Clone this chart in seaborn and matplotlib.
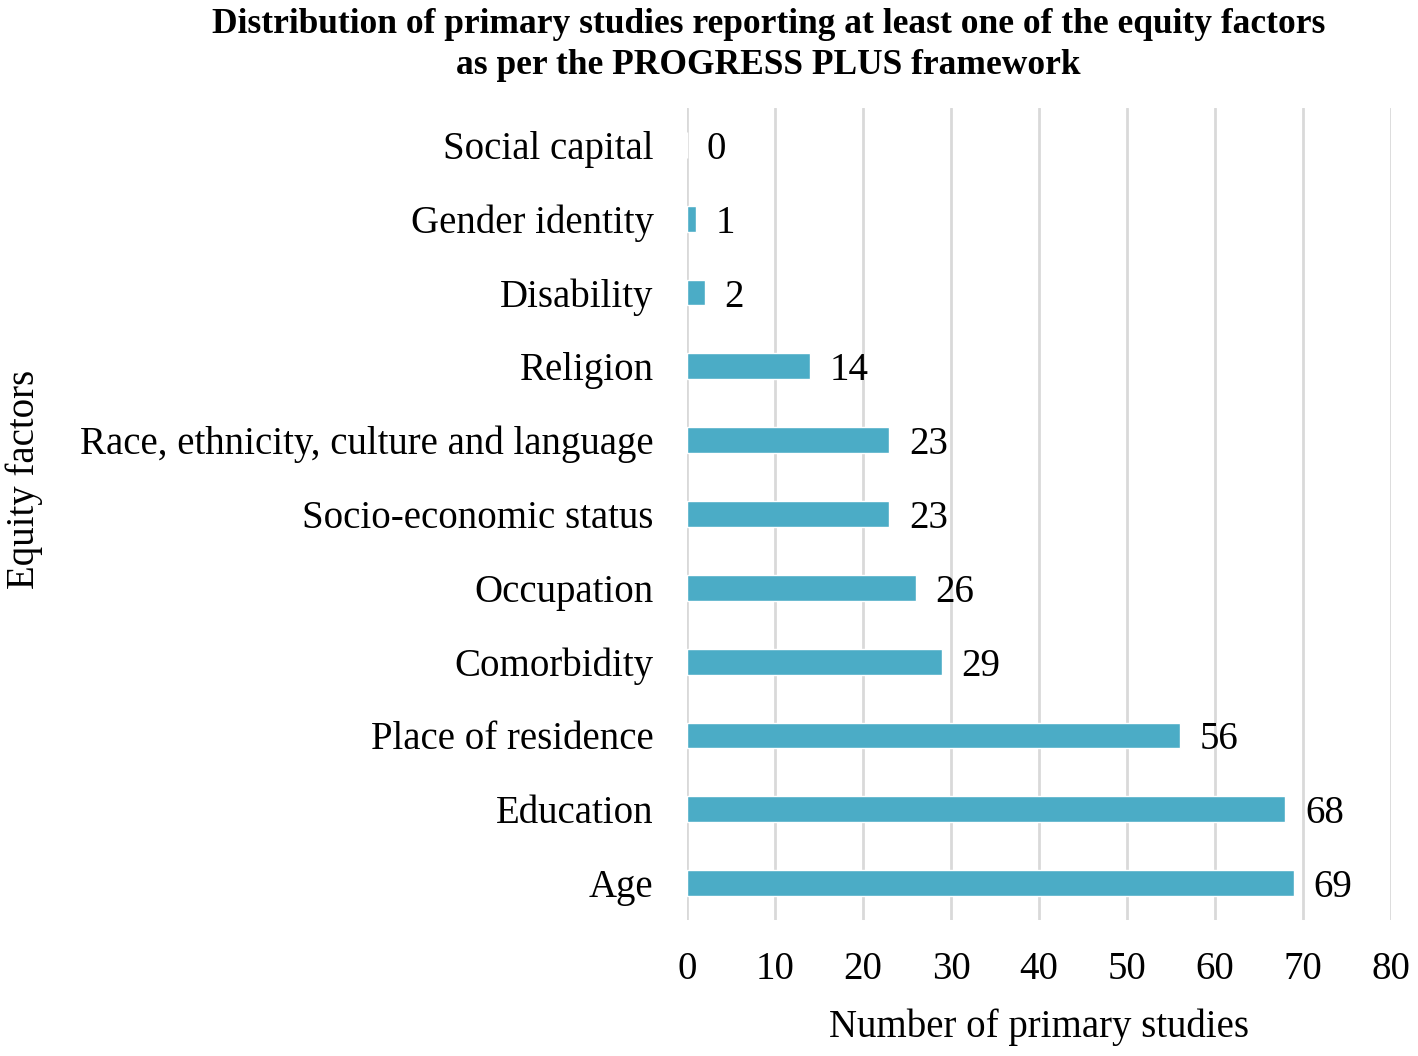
import pandas as pd
import matplotlib
matplotlib.use("Agg")
import matplotlib.pyplot as plt
import seaborn as sns

# datos (de arriba hacia abajo)
factores = ['Social capital', 'Gender identity', 'Disability', 'Religion',
            'Race, ethnicity, culture and language', 'Socio-economic status',
            'Occupation', 'Comorbidity', 'Place of residence', 'Education', 'Age']
estudios = [0, 1, 2, 14, 23, 23, 26, 29, 56, 68, 69]
ticks_x = [0, 10, 20, 30, 40, 50, 60, 70, 80]

sns.set_theme(style='white')
plt.rcParams['font.family'] = ['Liberation Serif', 'DejaVu Serif']
plt.rcParams['text.color'] = 'black'

datos = pd.DataFrame({'Factor': factores, 'Estudios': estudios})

fig = plt.figure(figsize=(14.18, 10.56), dpi=100)
ax = fig.add_axes([0.4845, 0.1288, 0.4965, 0.7689])

sns.barplot(data=datos, y='Factor', x='Estudios', color='#4BACC6',
            width=0.35, saturation=1, ax=ax, zorder=3)

ax.set_xlim(0, 80)
ax.set_xticks(ticks_x)
ax.grid(axis='x', color='#D9D9D9', linewidth=2, zorder=0)
ax.grid(axis='y', visible=False)
for lado in ax.spines.values():
    lado.set_visible(False)

ax.tick_params(axis='both', length=0, labelsize=28, colors='black')
ax.tick_params(axis='x', pad=22)
ax.tick_params(axis='y', pad=24)

for i, v in enumerate(estudios):
    ax.annotate(str(v), xy=(v, i), xytext=(14, 0), textcoords='offset points',
                ha='left', va='center_baseline', fontsize=28, color='black')

ax.set_xlabel('Number of primary studies', fontsize=28, labelpad=15, color='black')
ax.set_ylabel('Equity factors', fontsize=28, color='black')
ax.yaxis.set_label_coords(-0.915, 0.542)

fig.text(0.542, 0.992, 'Distribution of primary studies reporting at least one of the equity factors\n'
         'as per the PROGRESS PLUS framework', ha='center', va='top',
         fontsize=25.5, fontweight='bold', linespacing=1.29, color='black')

fig.savefig('out.png', dpi=100)
